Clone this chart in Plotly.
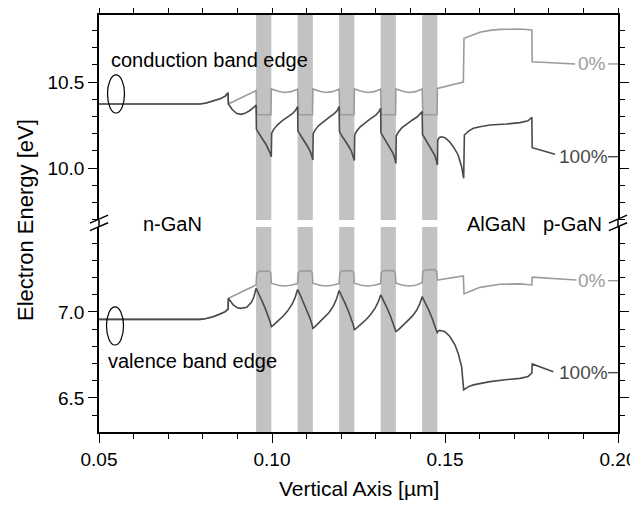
import plotly.graph_objects as go

# ---------------- data ----------------
well_start = [0.0954, 0.1074, 0.1194, 0.1314, 0.1434]
well_end = [0.0998, 0.1118, 0.1238, 0.1358, 0.1478]

cb100_x = [0.0500, 0.0792, 0.0810, 0.0830, 0.0850, 0.0865, 0.0873,
           0.0874, 0.0885, 0.0897, 0.0910, 0.0922, 0.0935, 0.0947, 0.0954,
           0.0955, 0.0962, 0.0972, 0.0982, 0.0990, 0.0995, 0.0998,
           0.0999, 0.1005, 0.1015, 0.1030, 0.1045, 0.1060, 0.1068, 0.1074,
           0.1075, 0.1082, 0.1092, 0.1102, 0.1110, 0.1115, 0.1118,
           0.1119, 0.1125, 0.1135, 0.1150, 0.1165, 0.1180, 0.1188, 0.1194,
           0.1195, 0.1202, 0.1212, 0.1222, 0.1230, 0.1235, 0.1238,
           0.1239, 0.1245, 0.1255, 0.1270, 0.1285, 0.1300, 0.1308, 0.1314,
           0.1315, 0.1322, 0.1332, 0.1342, 0.1350, 0.1355, 0.1358,
           0.1359, 0.1365, 0.1375, 0.1390, 0.1405, 0.1420, 0.1428, 0.1434,
           0.1435, 0.1442, 0.1452, 0.1462, 0.1470, 0.1475, 0.1478,
           0.1479, 0.1484, 0.1490, 0.1500, 0.1512, 0.1524, 0.1538, 0.1548, 0.1554,
           0.1556, 0.1568, 0.1582, 0.1601, 0.1630, 0.1678, 0.1717, 0.1740, 0.1751,
           0.1752, 0.1818]
cb100_y = [10.372, 10.372, 10.378, 10.388, 10.402, 10.418, 10.438,
           10.372, 10.340, 10.318, 10.312, 10.318, 10.333, 10.352, 10.366,
           10.225, 10.200, 10.170, 10.140, 10.110, 10.085, 10.066,
           10.202, 10.225, 10.250, 10.275, 10.296, 10.318, 10.335, 10.357,
           10.215, 10.190, 10.160, 10.128, 10.098, 10.070, 10.047,
           10.200, 10.222, 10.247, 10.272, 10.294, 10.316, 10.333, 10.357,
           10.212, 10.187, 10.157, 10.125, 10.095, 10.067, 10.044,
           10.192, 10.215, 10.240, 10.265, 10.287, 10.308, 10.325, 10.347,
           10.205, 10.180, 10.148, 10.115, 10.085, 10.055, 10.027,
           10.186, 10.208, 10.233, 10.257, 10.278, 10.298, 10.312, 10.328,
           10.195, 10.170, 10.138, 10.105, 10.075, 10.045, 10.017,
           10.163, 10.178, 10.182, 10.176, 10.155, 10.124, 10.076, 10.008, 9.940,
           10.192, 10.215, 10.231, 10.240, 10.250, 10.256, 10.264, 10.275, 10.295,
           10.118, 10.080]

cb0_x = [0.0500, 0.0792, 0.0810, 0.0830, 0.0850, 0.0865, 0.0873,
         0.0874, 0.0954, 0.0956, 0.0997,
         0.0998, 0.1018, 0.1036, 0.1055, 0.1074, 0.1076, 0.1117,
         0.1118, 0.1138, 0.1156, 0.1175, 0.1194, 0.1196, 0.1237,
         0.1238, 0.1258, 0.1276, 0.1295, 0.1314, 0.1316, 0.1357,
         0.1358, 0.1378, 0.1396, 0.1415, 0.1434, 0.1436, 0.1477,
         0.1478, 0.1553, 0.1555, 0.1580, 0.1601, 0.1630, 0.1659, 0.1717, 0.1751,
         0.1752, 0.1876]
cb0_y = [10.372, 10.372, 10.378, 10.388, 10.402, 10.418, 10.438,
         10.372, 10.450, 10.310, 10.310,
         10.460, 10.446, 10.439, 10.444, 10.458, 10.310, 10.310,
         10.460, 10.446, 10.439, 10.444, 10.458, 10.310, 10.310,
         10.460, 10.446, 10.439, 10.444, 10.458, 10.310, 10.310,
         10.460, 10.446, 10.439, 10.444, 10.460, 10.310, 10.310,
         10.463, 10.500, 10.754, 10.775, 10.789, 10.800, 10.806, 10.808, 10.802,
         10.618, 10.605]

vb100_x = [0.0500, 0.0792, 0.0810, 0.0830, 0.0850, 0.0865, 0.0873,
           0.0874, 0.0888, 0.0900, 0.0910, 0.0927, 0.0941, 0.0948, 0.0954,
           0.0962, 0.0972, 0.0982, 0.0990, 0.0995, 0.0998,
           0.1005, 0.1018, 0.1032, 0.1045, 0.1058, 0.1067, 0.1074,
           0.1082, 0.1092, 0.1102, 0.1110, 0.1115, 0.1118,
           0.1125, 0.1138, 0.1152, 0.1165, 0.1178, 0.1187, 0.1194,
           0.1202, 0.1212, 0.1222, 0.1230, 0.1235, 0.1238,
           0.1245, 0.1258, 0.1272, 0.1285, 0.1298, 0.1307, 0.1314,
           0.1322, 0.1332, 0.1342, 0.1350, 0.1355, 0.1358,
           0.1365, 0.1378, 0.1392, 0.1405, 0.1418, 0.1427, 0.1434,
           0.1442, 0.1452, 0.1462, 0.1470, 0.1475, 0.1478,
           0.1479, 0.1484, 0.1490, 0.1500, 0.1514, 0.1529, 0.1538, 0.1548, 0.1554,
           0.1568, 0.1582, 0.1601, 0.1630, 0.1680, 0.1717, 0.1740, 0.1751,
           0.1752, 0.1813]
vb100_y = [6.957, 6.957, 6.962, 6.972, 6.988, 7.002, 7.016,
           7.080, 7.041, 7.024, 7.021, 7.027, 7.058, 7.090, 7.138,
           7.105, 7.060, 7.012, 6.970, 6.940, 6.915,
           6.925, 6.950, 6.975, 7.005, 7.045, 7.085, 7.130,
           7.097, 7.052, 7.004, 6.962, 6.932, 6.905,
           6.916, 6.941, 6.967, 6.997, 7.037, 7.078, 7.125,
           7.092, 7.047, 6.998, 6.955, 6.924, 6.895,
           6.906, 6.931, 6.956, 6.985, 7.022, 7.058, 7.099,
           7.068, 7.025, 6.978, 6.937, 6.910, 6.886,
           6.896, 6.920, 6.945, 6.974, 7.010, 7.047, 7.089,
           7.058, 7.015, 6.968, 6.927, 6.900, 6.876,
           6.888, 6.893, 6.891, 6.885, 6.857, 6.808, 6.760, 6.682, 6.547,
           6.566, 6.576, 6.585, 6.595, 6.607, 6.614, 6.625, 6.644,
           6.698, 6.653]

vb0_x = [0.0500, 0.0792, 0.0810, 0.0830, 0.0850, 0.0865, 0.0873,
         0.0874, 0.0954, 0.0956, 0.0962, 0.0990, 0.0996,
         0.0998, 0.1018, 0.1036, 0.1055, 0.1074, 0.1076, 0.1082, 0.1110, 0.1116,
         0.1118, 0.1138, 0.1156, 0.1175, 0.1194, 0.1196, 0.1202, 0.1230, 0.1236,
         0.1238, 0.1258, 0.1276, 0.1295, 0.1314, 0.1316, 0.1322, 0.1350, 0.1356,
         0.1358, 0.1378, 0.1396, 0.1415, 0.1434, 0.1436, 0.1442, 0.1470, 0.1476,
         0.1478, 0.1553, 0.1555, 0.1582, 0.1601, 0.1659, 0.1717, 0.1751,
         0.1752, 0.1880]
vb0_y = [6.957, 6.957, 6.962, 6.972, 6.988, 7.002, 7.016,
         7.080, 7.157, 7.225, 7.236, 7.238, 7.228,
         7.167, 7.155, 7.151, 7.155, 7.165, 7.228, 7.238, 7.240, 7.230,
         7.167, 7.155, 7.151, 7.155, 7.165, 7.228, 7.238, 7.240, 7.230,
         7.167, 7.155, 7.151, 7.155, 7.165, 7.230, 7.240, 7.242, 7.232,
         7.167, 7.155, 7.151, 7.155, 7.170, 7.235, 7.244, 7.246, 7.236,
         7.186, 7.209, 7.105, 7.128, 7.143, 7.161, 7.163, 7.157,
         7.202, 7.186]

curve_labels = ["0%", "100%"]
cb_label_y = [10.605, 10.066]
vb_label_y = [7.182, 6.647]
label_x = [0.1882, 0.1826]

x_range = [0.05, 0.20]
y_top_range = [9.698, 10.8895]
y_bot_range = [6.302, 7.494]

# ---------------- style ----------------
FONT = "Liberation Sans, Arial, Helvetica, sans-serif"
LIGHT = "#9c9c9c"
DARK = "#4a4a4a"
BAND = "#c2c2c2"
bot_dom = [0.0, 0.4916]
top_dom = [0.5084, 1.0]

fig = go.Figure()
fig.add_trace(go.Scatter(x=cb0_x, y=cb0_y, mode="lines", xaxis="x2", yaxis="y2",
                         line=dict(color=LIGHT, width=1.6), showlegend=False))
fig.add_trace(go.Scatter(x=cb100_x, y=cb100_y, mode="lines", xaxis="x2", yaxis="y2",
                         line=dict(color=DARK, width=1.6), showlegend=False))
fig.add_trace(go.Scatter(x=vb0_x, y=vb0_y, mode="lines", xaxis="x", yaxis="y",
                         line=dict(color=LIGHT, width=1.6), showlegend=False))
fig.add_trace(go.Scatter(x=vb100_x, y=vb100_y, mode="lines", xaxis="x", yaxis="y",
                         line=dict(color=DARK, width=1.6), showlegend=False))

shapes = []
for s, e in zip(well_start, well_end):
    for yr in ("y domain", "y2 domain"):
        shapes.append(dict(type="rect", xref="x", yref=yr, x0=s, x1=e, y0=0, y1=1,
                           fillcolor=BAND, line=dict(width=0), layer="below"))

# bridge axis lines across the break and the break marks
for xp in (0, 1):
    shapes.append(dict(type="line", xref="paper", yref="paper", x0=xp, x1=xp,
                       y0=bot_dom[1], y1=top_dom[0], line=dict(color="black", width=1.5)))
    for yc in (0.5105, 0.4923):
        shapes.append(dict(type="line", xref="paper", yref="paper",
                           x0=xp - 0.0175, x1=xp + 0.0175, y0=yc - 0.0095, y1=yc + 0.0095,
                           line=dict(color="black", width=1.4)))

# ellipses
shapes.append(dict(type="circle", xref="x2", yref="y2", x0=0.05246, x1=0.05737,
                   y0=10.320, y1=10.541, line=dict(color="black", width=1.2)))
shapes.append(dict(type="circle", xref="x", yref="y", x0=0.05217, x1=0.05708,
                   y0=6.808, y1=7.029, line=dict(color="black", width=1.2)))

# short dashes from labels to right axis
for yv, c in zip(cb_label_y, [LIGHT, DARK]):
    shapes.append(dict(type="line", xref="x2", yref="y2", x0=0.1971, x1=0.2, y0=yv, y1=yv,
                       line=dict(color=c, width=1.4)))
for yv, c in zip(vb_label_y, [LIGHT, DARK]):
    shapes.append(dict(type="line", xref="x", yref="y", x0=0.1971, x1=0.2, y0=yv, y1=yv,
                       line=dict(color=c, width=1.4)))

ann = []
tf = dict(family=FONT, size=20, color="black")
ann.append(dict(text="conduction band edge", xref="x2", yref="y2", x=0.0530, y=10.628,
                xanchor="left", yanchor="middle", showarrow=False, font=tf))
ann.append(dict(text="valence band edge", xref="x", yref="y", x=0.0521, y=6.715,
                xanchor="left", yanchor="middle", showarrow=False, font=tf))
ann.append(dict(text="n-GaN", xref="x", yref="paper", x=0.0712, y=0.4988,
                xanchor="center", yanchor="middle", showarrow=False, font=tf))
ann.append(dict(text="AlGaN", xref="x", yref="paper", x=0.1650, y=0.4988,
                xanchor="center", yanchor="middle", showarrow=False, font=tf))
ann.append(dict(text="p-GaN", xref="x", yref="paper", x=0.1868, y=0.4988,
                xanchor="center", yanchor="middle", showarrow=False, font=tf))
for lab, yv, xv, c in zip(curve_labels, cb_label_y, label_x, [LIGHT, DARK]):
    ann.append(dict(text=lab, xref="x2", yref="y2", x=xv, y=yv, xanchor="left",
                    yanchor="middle", showarrow=False, borderpad=0,
                    font=dict(family=FONT, size=19, color=c)))
for lab, yv, xv, c in zip(curve_labels, vb_label_y, label_x, [LIGHT, DARK]):
    ann.append(dict(text=lab, xref="x", yref="y", x=xv, y=yv, xanchor="left",
                    yanchor="middle", showarrow=False, borderpad=0,
                    font=dict(family=FONT, size=19, color=c)))
ann.append(dict(text="Electron Energy [eV]", xref="paper", yref="paper", x=-0.143, y=0.508,
                xanchor="center", yanchor="middle", textangle=-90, showarrow=False,
                font=dict(family=FONT, size=22, color="black")))
ann.append(dict(text="Vertical Axis [\u00b5m]", xref="paper", yref="paper", x=0.5, y=-0.136,
                xanchor="center", yanchor="middle", showarrow=False,
                font=dict(family=FONT, size=21, color="black")))

tickfont = dict(family=FONT, size=19, color="black")
common_axis = dict(showgrid=False, zeroline=False, showline=True, linecolor="black",
                   linewidth=1.5, ticks="outside", ticklen=9, tickwidth=1.3,
                   tickcolor="black", tickfont=tickfont, automargin=False)
minor_common = dict(ticks="outside", ticklen=5, tickwidth=1.2, tickcolor="black")

# the page body adds an 8px offset; the figure is sized to fill the rest of the window
fig.update_layout(
    width=630, height=498,
    margin=dict(l=91, r=20, t=7, b=74, autoexpand=False),
    paper_bgcolor="white", plot_bgcolor="white",
    font=dict(family=FONT, size=19, color="black"),
    xaxis=dict(domain=[0, 1], anchor="y", range=x_range, tickmode="linear", tick0=0.05,
               dtick=0.05, tickformat=".2f", minor=dict(dtick=0.01, **minor_common),
               side="bottom", mirror=False, **common_axis),
    xaxis2=dict(domain=[0, 1], anchor="y2", matches="x", range=x_range, tickmode="linear",
                tick0=0.05, dtick=0.05, showticklabels=False,
                minor=dict(dtick=0.01, **minor_common), side="top", mirror=False,
                **common_axis),
    yaxis=dict(domain=bot_dom, anchor="x", range=y_bot_range, tickmode="linear", tick0=6.5,
               dtick=0.5, tickformat=".1f", minor=dict(dtick=0.1, tick0=6.5, **minor_common),
               mirror="ticks", **common_axis),
    yaxis2=dict(domain=top_dom, anchor="x2", range=y_top_range, tickmode="linear", tick0=10.0,
                dtick=0.5, tickformat=".1f", minor=dict(dtick=0.1, tick0=10.0, **minor_common),
                mirror="ticks", **common_axis),
    shapes=shapes,
    annotations=ann,
)

fig.write_html("out.html")
